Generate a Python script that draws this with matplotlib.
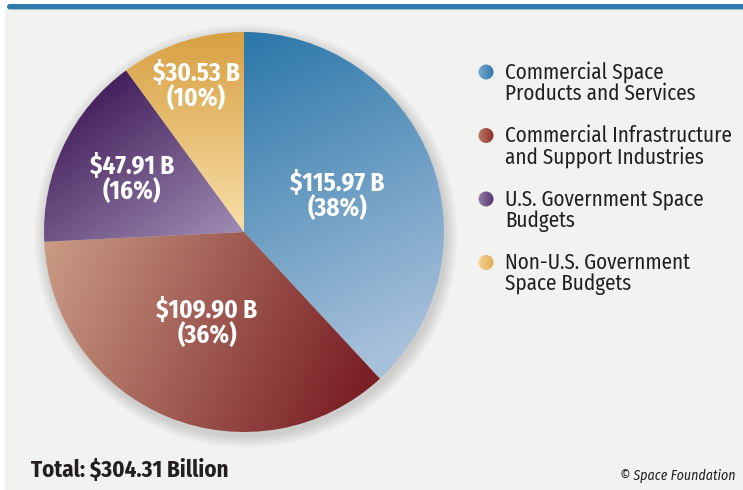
import numpy as np
import matplotlib.pyplot as plt
from matplotlib.colors import LinearSegmentedColormap
from matplotlib.patches import Rectangle, Circle, FancyBboxPatch

plt.rcParams['font.family'] = ['Fira Sans Condensed', 'DejaVu Sans']
plt.rcParams['font.stretch'] = 'condensed'

# data
categories = ['Commercial Space\nProducts and Services',
              'Commercial Infrastructure\nand Support Industries',
              'U.S. Government Space\nBudgets',
              'Non-U.S. Government\nSpace Budgets']
values = [115.97, 109.90, 47.91, 30.53]
total_label = 'Total: $304.31 Billion'
credit = '\u00a9 Space Foundation'

# gradient (dark/light) per slice and direction in pie coords
grad_colors = [('#2a77a9', '#a8c1db'),
               ('#c99a84', '#7a2025'),
               ('#45215d', '#9c8ab0'),
               ('#d8a042', '#f6dca4')]
grad_dirs = [((0.0, 1.0), (0.75, -0.6)),
             ((-1.0, -0.1), (0.6, -0.75)),
             ((-0.6, 0.8), (-0.05, 0.0)),
             ((0.0, 1.0), (0.0, 0.05))]
label_dist = [0.50, 0.49, 0.62, 0.77]
dot_colors = [('#7aa8d0', '#2f78ab'),
              ('#c07a66', '#8a2e2c'),
              ('#9580aa', '#55346e'),
              ('#f4d69a', '#e0aa50')]

W, H = 743, 490
fig = plt.figure(figsize=(W / 100, H / 100), dpi=100)
fig.patch.set_facecolor('white')

# background layer in pixel coords
bg = fig.add_axes([0, 0, 1, 1], zorder=0)
bg.set_xlim(0, W)
bg.set_ylim(H, 0)
bg.axis('off')
bg.add_patch(Rectangle((5, 10), W, H - 10, facecolor='#f2f2f0', edgecolor='none'))
bg.add_patch(FancyBboxPatch((7, 4), W, 5.5, boxstyle='round,pad=0,rounding_size=2.7',
                            facecolor='#2e7aab', edgecolor='none'))
# soft shadow under the pie
for k in range(12, 0, -1):
    bg.add_patch(Circle((246, 236), 200 + k, facecolor='#000000',
                        alpha=0.012, edgecolor='none'))

# pie
ax = fig.add_axes([44 / W, (H - 432) / H, 400 / W, 400 / H], zorder=1)
wedges, _ = ax.pie(values, startangle=90, counterclock=False, radius=1,
                   wedgeprops=dict(facecolor='none', edgecolor='none'))
ax.set_xlim(-1, 1)
ax.set_ylim(-1, 1)
ax.set_aspect('equal')
ax.axis('off')

xs = np.linspace(-1, 1, 500)
X, Y = np.meshgrid(xs, xs)
tot = sum(values)
for i, w in enumerate(wedges):
    (x0, y0), (x1, y1) = grad_dirs[i]
    dx, dy = x1 - x0, y1 - y0
    t = ((X - x0) * dx + (Y - y0) * dy) / (dx * dx + dy * dy)
    t = np.clip(t, 0, 1)
    cmap = LinearSegmentedColormap.from_list('g%d' % i, grad_colors[i])
    im = ax.imshow(t, cmap=cmap, extent=[-1, 1, -1, 1], origin='lower',
                   vmin=0, vmax=1, interpolation='bilinear', zorder=1)
    ax.add_patch(w)
    im.set_clip_path(w)
    ang = np.deg2rad((w.theta1 + w.theta2) / 2)
    r = label_dist[i]
    pct = round(values[i] / tot * 100)
    ax.text(r * np.cos(ang), r * np.sin(ang), '$%.2f B\n(%d%%)' % (values[i], pct),
            ha='center', va='center', color='white', fontsize=18,
            fontweight='bold', linespacing=0.95, zorder=3)

# legend
fg = fig.add_axes([0, 0, 1, 1], zorder=2)
fg.set_xlim(0, W)
fg.set_ylim(H, 0)
fg.axis('off')
gx = np.linspace(0, 1, 64)
for i, name in enumerate(categories):
    yy = 72 + i * 63.5
    dot = Circle((486, yy), 7.5, facecolor='none', edgecolor='none')
    fg.add_patch(dot)
    cm = LinearSegmentedColormap.from_list('d%d' % i, dot_colors[i])
    im = fg.imshow(np.tile(gx, (8, 1)), cmap=cm, extent=[478, 494, yy + 8, yy - 8],
                   aspect='auto', interpolation='bilinear')
    im.set_clip_path(dot)
    fg.text(505, yy - 10.5, name, ha='left', va='top', fontsize=15.2,
            color='#231f20', linespacing=1.0)
fg.set_xlim(0, W)
fg.set_ylim(H, 0)

fg.text(31, 470, total_label, ha='left', va='center', fontsize=16.5,
        fontweight='bold', color='#231f20')
fg.text(735, 476, credit, ha='right', va='center', fontsize=10,
        style='italic', color='#231f20')

fig.savefig('out.png', dpi=100, facecolor=fig.get_facecolor())
